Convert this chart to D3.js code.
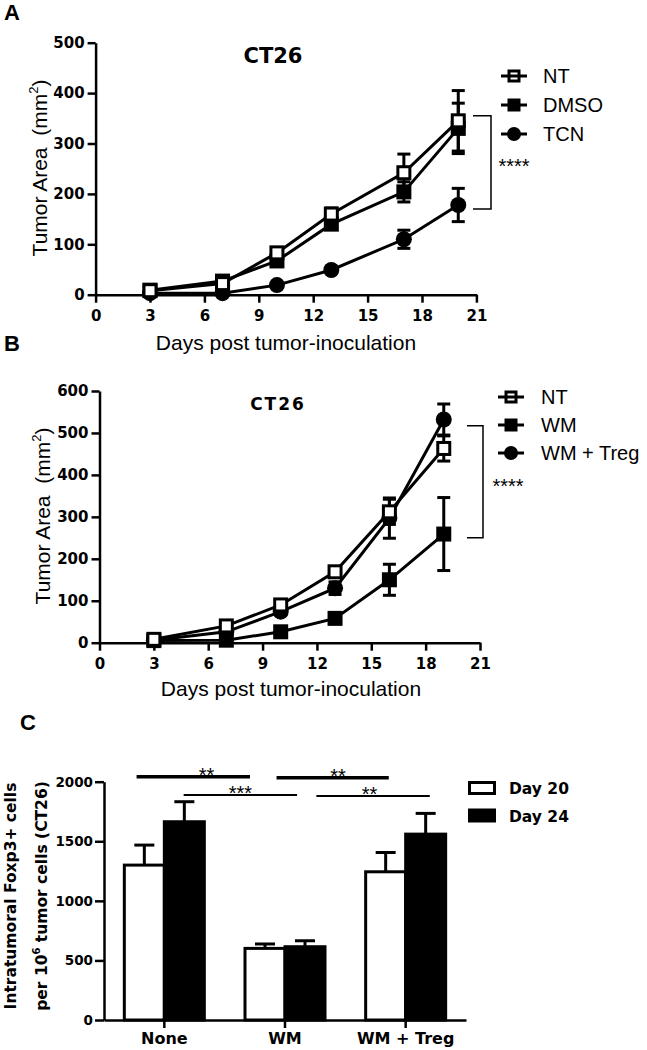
<!DOCTYPE html>
<html><head><meta charset="utf-8">
<script src="https://cdn.jsdelivr.net/npm/d3@7"></script>
<style>body{margin:0;background:#fff} svg{display:block}</style>
</head><body>
<svg id="c" width="647" height="1050"></svg>
<script>
// ---------- DATA ----------
// Panel A
const daysA = [3, 7, 10, 13, 17, 20];
const namesA = ["NT", "DMSO", "TCN"];
const ntA = [8, 22, 83, 160, 242, 345];
const ntAerr = [3, 5, 10, 12, 37, 60];
const dmsoA = [9, 27, 67, 140, 204, 330];
const dmsoAerr = [3, 5, 8, 10, 20, 50];
const tcnA = [3, 3, 19, 49, 110, 178];
const tcnAerr = [1, 2, 4, 6, 18, 33];
const yTicksA = [0, 100, 200, 300, 400, 500];
const xTicks = [0, 3, 6, 9, 12, 15, 18, 21];
// Panel B
const daysB = [3, 7, 10, 13, 16, 19];
const namesB = ["NT", "WM", "WM + Treg"];
const ntB = [8, 40, 90, 169, 312, 463];
const ntBerr = [3, 5, 8, 10, 30, 30];
const wmB = [5, 6, 26, 58, 150, 259];
const wmBerr = [2, 2, 5, 8, 37, 87];
const wmtB = [6, 26, 74, 130, 297, 532];
const wmtBerr = [2, 4, 8, 15, 48, 37];
const yTicksB = [0, 100, 200, 300, 400, 500, 600];
// Panel C
const groupsC = ["None", "WM", "WM + Treg"];
const namesC = ["Day 20", "Day 24"];
const day20 = [1300, 601, 1244];
const day20err = [168, 37, 162];
const day24 = [1664, 615, 1560];
const day24err = [168, 50, 174];
const yTicksC = [0, 500, 1000, 1500, 2000];
// significance comparisons in C: [from, to (group units), value level, label, thick, label pos]
const sigC = [
  [-0.23, 0.71, 2041, "**", true, 0.35],
  [0.16, 1.10, 1888, "***", false, 0.63],
  [0.93, 1.86, 2033, "**", true, 1.44],
  [1.26, 2.20, 1879, "**", false, 1.70]
];

// ---------- DRAW ----------
const svg = d3.select("#c");
const TICKFONT = "DejaVu Sans";
const TXT = "Liberation Sans, Arial, sans-serif";

function styleAxis(g, fs) {
  g.attr("font-family", TICKFONT).attr("font-weight", "bold").attr("font-size", fs);
  g.select(".domain").attr("stroke", "#000").attr("stroke-width", 2.5);
  g.selectAll(".tick line").attr("stroke", "#000").attr("stroke-width", 2.5);
  g.selectAll(".tick text").attr("fill", "#000");
}

function marker(g, type, cx, cy, s) {
  if (type === "circle") {
    g.append("circle").attr("cx", cx).attr("cy", cy).attr("r", s / 2 + 0.5).attr("fill", "#000");
  } else if (type === "square") {
    g.append("rect").attr("x", cx - s / 2).attr("y", cy - s / 2).attr("width", s).attr("height", s).attr("fill", "#000");
  } else {
    g.append("rect").attr("x", cx - s / 2 + 1.5).attr("y", cy - s / 2 + 1.5).attr("width", s - 3).attr("height", s - 3)
      .attr("fill", "#fff").attr("stroke", "#000").attr("stroke-width", 3);
  }
}

function linePanel(cfg) {
  const x = d3.scaleLinear().domain([0, 21]).range(cfg.xr);
  const y = d3.scaleLinear().domain([0, cfg.ymax]).range(cfg.yr);
  const g = svg.append("g");
  // axes
  const ya = g.append("g").attr("transform", `translate(${x(0)},0)`)
    .call(d3.axisLeft(y).tickValues(cfg.yTicks).tickFormat(d3.format("d")).tickSize(8).tickPadding(3).tickSizeOuter(0));
  styleAxis(ya, 15);
  const xa = g.append("g").attr("transform", `translate(0,${y(0)})`)
    .call(d3.axisBottom(x).tickValues(xTicks).tickFormat(d3.format("d")).tickSize(8).tickPadding(8).tickSizeOuter(0));
  styleAxis(xa, 15);
  // series (draw reverse so first is on top)
  const line = d3.line().x(d => x(d.d)).y(d => y(d.v));
  const ser = cfg.series.slice().reverse();
  ser.forEach(s => {
    const pts = cfg.days.map((d, i) => ({ d: d, v: s.v[i], e: s.e[i] }));
    const sg = g.append("g");
    sg.append("path").datum(pts).attr("d", line).attr("fill", "none").attr("stroke", "#000").attr("stroke-width", 3);
    pts.forEach(p => {
      const cx = x(p.d), t = y(p.v + p.e), b = y(Math.max(0, p.v - p.e));
      sg.append("line").attr("x1", cx).attr("x2", cx).attr("y1", t).attr("y2", b).attr("stroke", "#000").attr("stroke-width", 3);
      [t, b].forEach(yy => sg.append("line").attr("x1", cx - 6.5).attr("x2", cx + 6.5).attr("y1", yy).attr("y2", yy)
        .attr("stroke", "#000").attr("stroke-width", 3));
    });
  });
  ser.forEach(s => {
    cfg.days.forEach((d, i) => marker(g, s.m, x(d), y(s.v[i]), 15));
  });
  // y label
  const yl = g.append("text").attr("transform", `translate(${cfg.ylx},${cfg.yly}) rotate(-90)`)
    .attr("text-anchor", "middle").attr("font-family", TXT).attr("font-size", 21).attr("fill", "#000");
  yl.append("tspan").text("Tumor Area\u00a0 (mm");
  yl.append("tspan").text("2").attr("font-size", 13).attr("dy", -9);
  yl.append("tspan").text(")").attr("dy", 9);
  // x label
  g.append("text").attr("x", cfg.xlx).attr("y", cfg.xly).attr("text-anchor", "middle")
    .attr("font-family", TXT).attr("font-size", 21).attr("fill", "#000").text("Days post tumor-inoculation");
  // title
  g.append("text").attr("x", cfg.tx).attr("y", cfg.ty).attr("text-anchor", "middle")
    .attr("font-family", TICKFONT).attr("font-weight", "bold").attr("font-size", cfg.tfs)
    .attr("letter-spacing", cfg.tls).attr("fill", "#000").text("CT26");
  // legend
  cfg.series.forEach((s, i) => {
    const ly = cfg.legY[i];
    const lg = g.append("g");
    if (s.m === "open") {
      marker(lg, s.m, cfg.legX, ly, 13);
      lg.append("line").attr("x1", cfg.legX - 13).attr("x2", cfg.legX + 13).attr("y1", ly).attr("y2", ly).attr("stroke", "#000").attr("stroke-width", 3);
    } else {
      lg.append("line").attr("x1", cfg.legX - 13).attr("x2", cfg.legX + 13).attr("y1", ly).attr("y2", ly).attr("stroke", "#000").attr("stroke-width", 3);
      marker(lg, s.m, cfg.legX, ly, 13);
    }
    lg.append("text").attr("x", cfg.legTX).attr("y", ly + 7).attr("font-family", TXT).attr("font-size", 20)
      .attr("fill", "#000").text(s.name);
  });
  // bracket
  const bx = cfg.brX;
  g.append("path").attr("d", `M${bx[0]},${y(cfg.brV[0])}H${bx[1]}V${y(cfg.brV[1])}H${bx[0]}`)
    .attr("fill", "none").attr("stroke", "#000").attr("stroke-width", 1.5);
  g.append("text").attr("x", cfg.starX).attr("y", y((cfg.brV[0] + cfg.brV[1]) / 2) + 11)
    .attr("text-anchor", "middle").attr("font-family", TXT).attr("font-size", 20).attr("fill", "#000").text("****");
  // panel label
  g.append("text").attr("x", 4).attr("y", cfg.ply).attr("font-family", TXT).attr("font-weight", "bold")
    .attr("font-size", 22).attr("fill", "#000").text(cfg.pl);
}

linePanel({
  xr: [95.6, 476.4], yr: [294.7, 42.7], ymax: 500, yTicks: yTicksA, days: daysA,
  series: [
    { name: namesA[0], v: ntA, e: ntAerr, m: "open" },
    { name: namesA[1], v: dmsoA, e: dmsoAerr, m: "square" },
    { name: namesA[2], v: tcnA, e: tcnAerr, m: "circle" }
  ],
  ylx: 47, yly: 168, xlx: 286, xly: 350, tx: 273, ty: 63, tfs: 21, tls: 0,
  legX: 514, legY: [76, 105, 134], legTX: 543,
  brX: [473, 491], brV: [355, 170], starX: 514, pl: "A", ply: 20
});

linePanel({
  xr: [99.5, 480], yr: [642.7, 391], ymax: 600, yTicks: yTicksB, days: daysB,
  series: [
    { name: namesB[0], v: ntB, e: ntBerr, m: "open" },
    { name: namesB[1], v: wmB, e: wmBerr, m: "square" },
    { name: namesB[2], v: wmtB, e: wmtBerr, m: "circle" }
  ],
  ylx: 50, yly: 516, xlx: 291, xly: 696, tx: 278, ty: 410, tfs: 17, tls: 2,
  legX: 511, legY: [397, 425, 453], legTX: 541,
  brX: [467, 483], brV: [517, 250], starX: 508, pl: "B", ply: 351
});

// ---------- Panel C ----------
(function () {
  const g = svg.append("g");
  const x0 = d3.scaleBand().domain(groupsC).range([104, 466]).paddingInner(0.337).paddingOuter(0.1685);
  const x1 = d3.scaleBand().domain(namesC).range([0, x0.bandwidth()]);
  const xg = d3.scaleLinear().domain([-0.5, 2.5]).range([104, 466]);
  const y = d3.scaleLinear().domain([0, 2000]).range([1020, 781.7]);
  const vals = [day20, day24], errs = [day20err, day24err], fills = ["#fff", "#000"];
  // bars
  groupsC.forEach((gr, i) => {
    namesC.forEach((s, j) => {
      const bx = x0(gr) + x1(s), bw = x1.bandwidth(), v = vals[j][i], e = errs[j][i];
      const cx = bx + bw / 2;
      g.append("line").attr("x1", cx).attr("x2", cx).attr("y1", y(v)).attr("y2", y(v + e)).attr("stroke", "#000").attr("stroke-width", 3);
      g.append("line").attr("x1", cx - 10).attr("x2", cx + 10).attr("y1", y(v + e)).attr("y2", y(v + e)).attr("stroke", "#000").attr("stroke-width", 3);
      g.append("rect").attr("x", bx).attr("y", y(v)).attr("width", bw).attr("height", y(0) - y(v))
        .attr("fill", fills[j]).attr("stroke", "#000").attr("stroke-width", 3);
    });
  });
  // axes
  const ya = g.append("g").attr("transform", "translate(104,0)")
    .call(d3.axisLeft(y).tickValues(yTicksC).tickFormat(d3.format("d")).tickSize(9).tickPadding(2).tickSizeOuter(0));
  styleAxis(ya, 13.5);
  const xa = g.append("g").attr("transform", `translate(0,${y(0)})`)
    .call(d3.axisBottom(x0).tickSize(8).tickPadding(5).tickSizeOuter(0));
  styleAxis(xa, 16);
  // significance
  sigC.forEach(s => {
    g.append("line").attr("x1", xg(s[0])).attr("x2", xg(s[1])).attr("y1", y(s[2])).attr("y2", y(s[2]))
      .attr("stroke", "#000").attr("stroke-width", s[4] ? 3.5 : 2);
    g.append("text").attr("x", xg(s[5])).attr("y", y(s[2]) + 5).attr("text-anchor", "middle")
      .attr("font-family", TXT).attr("font-size", 20).attr("fill", "#000").text(s[3]);
  });
  // y labels
  g.append("text").attr("transform", "translate(16,896) rotate(-90)").attr("text-anchor", "middle")
    .attr("font-family", TICKFONT).attr("font-weight", "bold").attr("font-size", 15.5).attr("fill", "#000")
    .text("Intratumoral Foxp3+ cells");
  const l2 = g.append("text").attr("transform", "translate(47,896) rotate(-90)").attr("text-anchor", "middle")
    .attr("font-family", TICKFONT).attr("font-weight", "bold").attr("font-size", 15.5).attr("fill", "#000");
  l2.append("tspan").text("per 10");
  l2.append("tspan").text("6").attr("font-size", 10).attr("dy", -7);
  l2.append("tspan").text(" tumor cells (CT26)").attr("dy", 7);
  // legend
  namesC.forEach((s, j) => {
    const ly = [788, 815.5][j];
    g.append("rect").attr("x", 469.5).attr("y", ly - 5.5).attr("width", 25).attr("height", 11)
      .attr("fill", fills[j]).attr("stroke", "#000").attr("stroke-width", 3);
    g.append("text").attr("x", 509).attr("y", ly + 6).attr("font-family", TICKFONT).attr("font-weight", "bold")
      .attr("font-size", 15.5).attr("fill", "#000").text(s);
  });
  // panel label
  g.append("text").attr("x", 20).attr("y", 730).attr("font-family", TXT).attr("font-weight", "bold")
    .attr("font-size", 22).attr("fill", "#000").text("C");
})();
</script>
</body></html>
